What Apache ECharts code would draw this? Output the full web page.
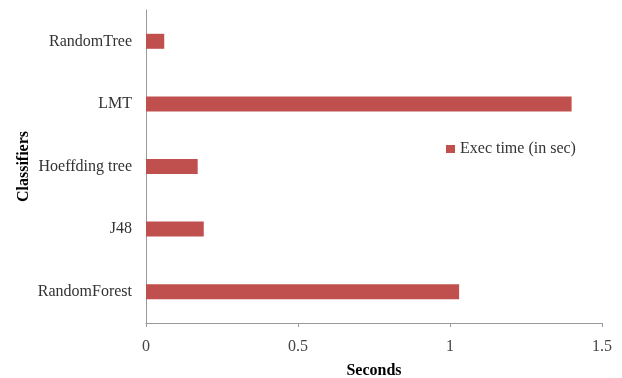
<!DOCTYPE html>
<html>
<head>
<meta charset="utf-8">
<script src="https://cdn.jsdelivr.net/npm/echarts@6/dist/echarts.min.js"></script>
<style>
  html, body { margin: 0; padding: 0; background: #fff; }
  #chart { width: 622px; height: 378px; }
</style>
</head>
<body>
<div id="chart"></div>
<script>
// Classifier execution times, bottom-to-top order on the category axis
const classifiers = ['RandomForest', 'J48', 'Hoeffding tree', 'LMT', 'RandomTree'];
const execTimes = [1.03, 0.19, 0.17, 1.40, 0.06];
const seriesName = 'Exec time (in sec)';

const serif = '"Liberation Serif", "DejaVu Serif", serif';
const chart = echarts.init(document.getElementById('chart'));

chart.setOption({
  animation: false,
  textStyle: { fontFamily: serif },
  grid: { left: 146, right: 20, top: 10, bottom: 55, containLabel: false, outerBoundsMode: 'none' },
  legend: {
    data: [seriesName],
    left: 441, top: 136,
    icon: 'rect', itemWidth: 9, itemHeight: 8, itemGap: 3,
    textStyle: { fontFamily: serif, fontSize: 16, color: '#333' }
  },
  xAxis: {
    type: 'value', min: 0, max: 1.5, interval: 0.5,
    name: 'Seconds', nameLocation: 'middle', nameGap: 40, nameMoveOverlap: false,
    nameTextStyle: { fontFamily: serif, fontSize: 16, fontWeight: 'bold', color: '#000' },
    axisLine: { show: true, lineStyle: { color: '#999', width: 1 } },
    axisTick: { show: true, length: 4, lineStyle: { color: '#999' } },
    axisLabel: { fontFamily: serif, fontSize: 16, color: '#444', margin: 16 },
    splitLine: { show: false }
  },
  yAxis: {
    type: 'category', data: classifiers,
    name: 'Classifiers', nameLocation: 'middle', nameGap: 114, nameRotate: 90, nameMoveOverlap: false,
    nameTextStyle: { fontFamily: serif, fontSize: 16, fontWeight: 'bold', color: '#000' },
    axisLine: { show: true, lineStyle: { color: '#999', width: 1 } },
    axisTick: { show: false },
    axisLabel: { fontFamily: serif, fontSize: 16, color: '#333', margin: 14 },
    splitLine: { show: false }
  },
  series: [{
    name: seriesName,
    type: 'bar',
    data: execTimes,
    barWidth: 15,
    itemStyle: { color: '#c0504d' }
  }]
});
</script>
</body>
</html>
